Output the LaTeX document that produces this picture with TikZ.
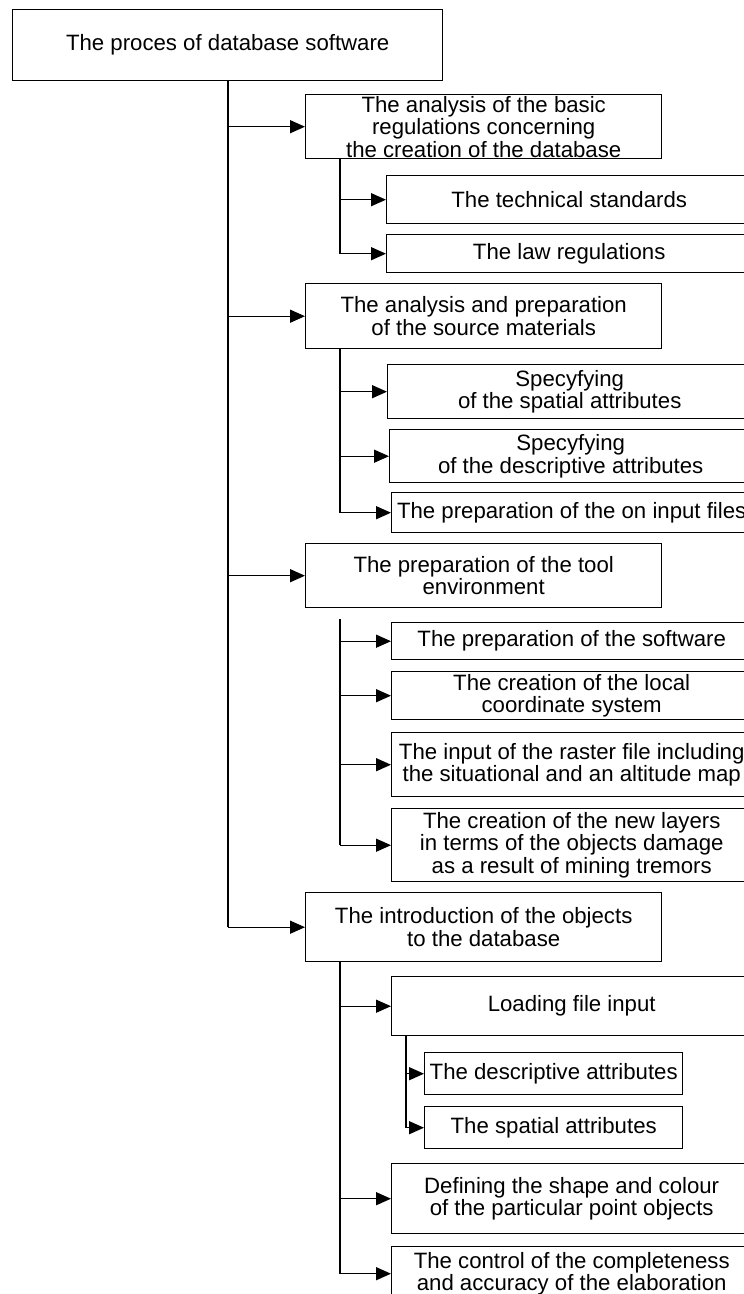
\documentclass[tikz,border=0pt]{standalone}
\usepackage{fontspec}
\setmainfont{Liberation Sans}
\usetikzlibrary{arrows.meta}
\begin{document}
\begin{tikzpicture}[x=1pt,y=-1pt,
  box/.style={draw, line width=1.4pt, rectangle, inner sep=0pt, align=center,
    anchor=north west, font=\fontsize{22.2}{22.5}\selectfont},
  link/.style={line width=1.5pt},
  trunk/.style={line width=2pt},
  arr/.style={line width=1.4pt, -{Triangle[length=15pt,width=13pt]}}]
\useasboundingbox (0,0) rectangle (744,1294);
\clip (0,0) rectangle (744,1294);
\fill[white] (0,0) rectangle (744,1294);
% nodes
\node[box, minimum width=430pt, minimum height=71pt] (root) at (12,9) {The proces of database software};
\node[box, minimum width=356pt, minimum height=64pt] (b1) at (305,94) {The analysis of the basic\\regulations concerning\\the creation of the database};
\node[box, minimum width=365pt, minimum height=48pt] (tech) at (386,175) {The technical standards};
\node[box, minimum width=365pt, minimum height=38pt] (law) at (386,234) {The law regulations};
\node[box, minimum width=356pt, minimum height=65pt] (b2) at (305,283) {The analysis and preparation\\of the source materials};
\node[box, minimum width=364pt, minimum height=54pt] (spat) at (387,364) {Specyfying\\of the spatial attributes};
\node[box, minimum width=362pt, minimum height=53pt] (desc) at (389,429) {Specyfying\\of the descriptive attributes};
\node[box, minimum width=360pt, minimum height=40pt] (inp) at (391,492) {The preparation of the on input files};
\node[box, minimum width=356pt, minimum height=64pt] (b3) at (305,543) {The preparation of the tool\\environment};
\node[box, minimum width=360pt, minimum height=37pt] (soft) at (391,622) {The preparation of the software};
\node[box, minimum width=360pt, minimum height=48pt] (local) at (391,671) {The creation of the local\\coordinate system};
\node[box, minimum width=360pt, minimum height=64pt] (raster) at (391,732) {The input of the raster file including\\the situational and an altitude map};
\node[box, minimum width=360pt, minimum height=73pt] (layers) at (391,808) {The creation of the new layers\\in terms of the objects damage\\as a result of mining tremors};
\node[box, minimum width=356pt, minimum height=69pt] (b4) at (305,892) {The introduction of the objects\\to the database};
\node[box, minimum width=360pt, minimum height=59pt] (load) at (391,976) {Loading file input};
\node[box, minimum width=258pt, minimum height=42pt] (dattr) at (424,1052) {The descriptive attributes};
\node[box, minimum width=258pt, minimum height=42pt] (sattr) at (424,1106) {The spatial attributes};
\node[box, minimum width=360pt, minimum height=70pt] (def) at (391,1163) {Defining the shape and colour\\of the particular point objects};
\node[box, minimum width=360pt, minimum height=54pt] (ctrl) at (391,1246) {The control of the completeness\\and accuracy of the elaboration};
% main trunk
\draw[trunk] (root.south) -- (root.south |- b4.west);
\foreach \n in {b1,b2,b3,b4} \draw[arr] (root.south |- \n.west) -- (\n.west);
% sub trunks
\coordinate (s1) at (340,158);
\coordinate (s2) at (340,348);
\coordinate (s3) at (340,619);
\coordinate (s4) at (340,961);
\coordinate (s5) at (406,1035);
\draw[link] (s1) -- (s1 |- law.west);
\foreach \n in {tech,law} \draw[arr] (s1 |- \n.west) -- (\n.west);
\draw[link] (s2) -- (s2 |- inp.west);
\foreach \n in {spat,desc,inp} \draw[arr] (s2 |- \n.west) -- (\n.west);
\draw[link] (s3) -- (s3 |- layers.west);
\foreach \n in {soft,local,raster,layers} \draw[arr] (s3 |- \n.west) -- (\n.west);
\draw[link] (s4) -- (s4 |- ctrl.west);
\foreach \n in {load,def,ctrl} \draw[arr] (s4 |- \n.west) -- (\n.west);
\draw[link] (s5) -- (s5 |- sattr.west);
\foreach \n in {dattr,sattr} \draw[arr] (s5 |- \n.west) -- (\n.west);
\end{tikzpicture}
\end{document}
